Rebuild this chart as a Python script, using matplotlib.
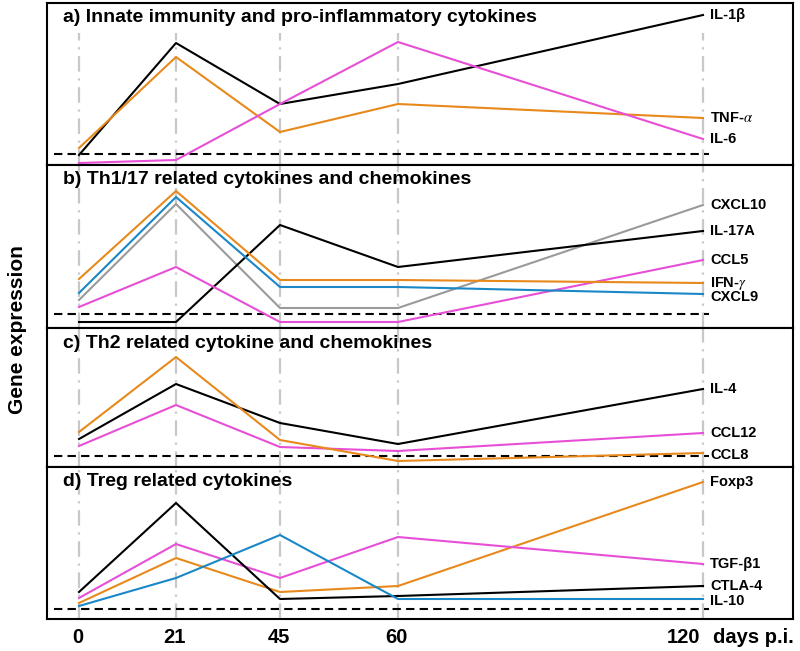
import numpy as np
import matplotlib
matplotlib.use('Agg')
import matplotlib.pyplot as plt

plt.rcParams['font.family'] = ['Liberation Sans', 'DejaVu Sans']
plt.rcParams['mathtext.fontset'] = 'stix'

# time points (days post infection)
days = [0, 21, 45, 60, 120]
day_labels = ['0', '21', '45', '60', '120']

# a) innate immunity
il1b = [10, 122, 61, 81, 150]
tnfa = [17, 108, 33, 61, 47]
il6 = [2, 5, 61, 123, 26]
base_a = 11

# b) Th1/17
ifng = [49, 137, 48, 48, 45]
cxcl9 = [35, 131, 41, 41, 34]
cxcl10 = [28, 124, 20, 20, 123]
ccl5 = [21, 61, 6, 6, 68]
il17a = [6, 6, 103, 61, 97]
base_b = 14

# c) Th2
ccl8 = [35, 110, 27, 6, 14]
il4 = [28, 83, 44, 23, 78]
ccl12 = [21, 62, 20, 16, 34]
base_c = 11

# d) Treg
ctla4 = [27, 116, 20, 23, 33]
tgfb1 = [21, 75, 41, 82, 55]
foxp3 = [16, 61, 27, 33, 137]
il10 = [13, 41, 84, 20, 20]
base_d = 10

BLACK = 'black'
ORANGE = '#E8891C'
MAGENTA = '#E64FD6'
BLUE = '#1A87C7'
GRAY = '#9A9A9A'

panels = [
    ('a) Innate immunity and pro-inflammatory cytokines', base_a, [
        ('IL-1β', il1b, BLACK, 0),
        (r'TNF-$\alpha$', tnfa, ORANGE, 0),
        ('IL-6', il6, MAGENTA, 0),
    ]),
    ('b) Th1/17 related cytokines and chemokines', base_b, [
        ('CXCL10', cxcl10, GRAY, 0),
        ('IL-17A', il17a, BLACK, 0),
        ('CCL5', ccl5, MAGENTA, 0),
        (r'IFN-$\gamma$', ifng, ORANGE, 0),
        ('CXCL9', cxcl9, BLUE, -2.5),
    ]),
    ('c) Th2 related cytokine and chemokines', base_c, [
        ('IL-4', il4, BLACK, 0),
        ('CCL12', ccl12, MAGENTA, 0),
        ('CCL8', ccl8, ORANGE, -1.5),
    ]),
    ('d) Treg related cytokines', base_d, [
        ('Foxp3', foxp3, ORANGE, 0),
        ('TGF-β1', tgfb1, MAGENTA, 0),
        ('CTLA-4', ctla4, BLACK, 0),
        ('IL-10', il10, BLUE, -1.5),
    ]),
]

# layout in pixels (figure is 800 x 651)
W, H = 800, 651
left_px, right_px = 47, 793
edges_px = [3, 165, 328, 467, 619]
tick_px = [79, 176, 280, 398, 703]


def day_x(d):
    return np.interp(d, days, tick_px)


fig = plt.figure(figsize=(W / 100, H / 100), dpi=100)

axes = []
for i, (title, base, series) in enumerate(panels):
    top, bot = edges_px[i], edges_px[i + 1]
    ax = fig.add_axes([left_px / W, 1 - bot / H, (right_px - left_px) / W, (bot - top) / H])
    ax.set_xlim(left_px, right_px)
    ax.set_ylim(0, bot - top)
    for s in ax.spines.values():
        s.set_linewidth(1.5)
    ax.set_xticks([])
    ax.set_yticks([])

    # grey dash-dot guides at each sampling day
    ymax = (bot - 33) / (bot - top) if i == 0 else 1
    for d in days:
        ax.axvline(day_x(d), ymin=0, ymax=ymax, color='#c8c8c8', lw=1.6,
                   ls=(0, (7, 3, 1, 3)), zorder=1)

    # detection baseline
    ax.hlines(base, day_x(0) - 25, day_x(120) + 6, colors='black', lw=1.5,
              linestyles=(0, (4, 2.5)), zorder=2)

    for name, vals, color, dy in series:
        ax.plot(day_x(np.array(days)), vals, color=color, lw=1.5, zorder=3, clip_on=False)
        ax.annotate(name, xy=(day_x(days[-1]), vals[-1]), xytext=(5, dy),
                    textcoords='offset points', ha='left', va='center',
                    fontsize=10.5, fontweight='bold', zorder=4)

    ax.text(16 / (right_px - left_px), 1 - 15 / (bot - top), title, transform=ax.transAxes,
            fontsize=14, fontweight='bold', ha='left', va='center', zorder=5)
    axes.append(ax)

# x tick labels below the last panel
ax = axes[-1]
for d, lab in zip(days[:-1], day_labels[:-1]):
    ax.annotate(lab, xy=(day_x(d), 0), xytext=(-1, -13), textcoords='offset points',
                ha='center', va='center', fontsize=14.5, fontweight='bold', annotation_clip=False)
ax.annotate(day_labels[-1], xy=(day_x(days[-1]), 0), xytext=(-2, -13), textcoords='offset points',
            ha='right', va='center', fontsize=14.5, fontweight='bold', annotation_clip=False)
ax.annotate('days p.i.', xy=(day_x(days[-1]), 0), xytext=(7, -13), textcoords='offset points',
            ha='left', va='center', fontsize=14.5, fontweight='bold', annotation_clip=False)

fig.text(18 / W, 1 - 330 / H, 'Gene expression', rotation=90, ha='center', va='center',
         fontsize=15, fontweight='bold')

fig.savefig('out.png', dpi=100)
